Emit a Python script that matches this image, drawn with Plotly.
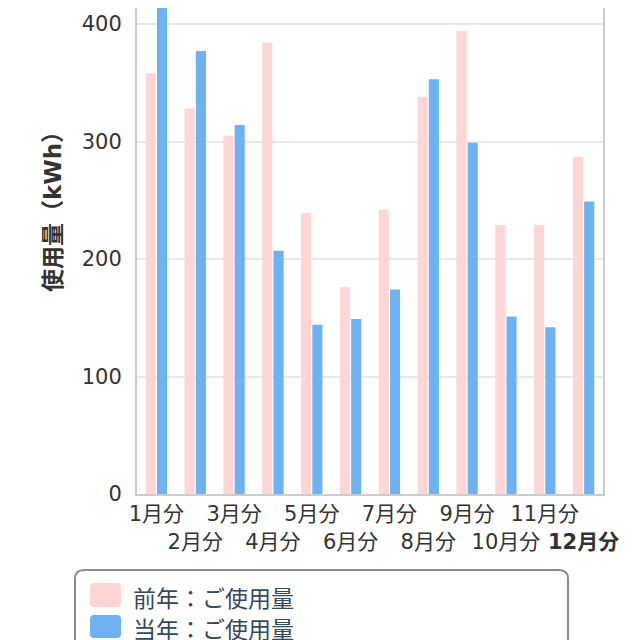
import plotly.graph_objects as go

# monthly usage, kWh
months = ["1月分", "2月分", "3月分", "4月分", "5月分", "6月分",
          "7月分", "8月分", "9月分", "10月分", "11月分", "12月分"]
prev_year = [358, 328, 305, 384, 239, 176, 242, 338, 394, 229, 229, 287]
this_year = [416, 377, 314, 207, 144, 149, 174, 353, 299, 151, 142, 249]
series_names = ["前年：ご使用量", "当年：ご使用量"]
colors = ["#ffd6d3", "#6db3f2"]

FONT = "DejaVu Sans, Noto Sans CJK JP, sans-serif"
CJK = "Noto Sans CJK JP"
OFF = 8                      # default body margin of the html page
W, H = 640 - OFF, 640 - OFF
L, R, T, B = 129, 37, 0, 146
PW, PH = W - L - R, H - T - B
Y_TOP = (494 - OFF) / 1.175  # value at the top edge of the plot area


def px(x, y):
    '''pixel position on the page -> paper coords'''
    return (x - OFF - L) / PW, (T + PH - (y - OFF)) / PH


def rounded_rect(x0, y0, x1, y1, r):
    '''rounded rectangle path, given in page pixels'''
    ax, ay = px(x0, y0)
    bx, by = px(x1, y1)
    rx, ry = r / PW, r / PH
    return (f"M {ax+rx},{ay} L {bx-rx},{ay} Q {bx},{ay} {bx},{ay-ry} "
            f"L {bx},{by+ry} Q {bx},{by} {bx-rx},{by} L {ax+rx},{by} "
            f"Q {ax},{by} {ax},{by+ry} L {ax},{ay-ry} Q {ax},{ay} {ax+rx},{ay} Z")


# odd months on the first row, even months on the second
ticktext = []
for i, m in enumerate(months):
    label = m if i % 2 == 0 else "<br>" + m
    if i == len(months) - 1:
        label = "<br><b>" + m + "</b>"
    ticktext.append(label)

fig = go.Figure()
for name, vals, col in zip(series_names, [prev_year, this_year], colors):
    fig.add_trace(go.Bar(x=months, y=vals, name=name, marker_color=col,
                         marker_line_width=0))

fig.update_layout(
    width=W, height=H,
    margin=dict(l=L, r=R, t=T, b=B, pad=0, autoexpand=False),
    paper_bgcolor="white", plot_bgcolor="white",
    barmode="group", bargap=0.42, bargroupgap=0.1,
    showlegend=False,
    font=dict(family=FONT, size=21, color="#333333"),
)
fig.update_xaxes(
    tickvals=months, ticktext=ticktext, tickangle=0, automargin=False,
    showline=True, linecolor="#cccccc", linewidth=2,
    showgrid=False, ticks="",
    tickfont=dict(size=21, color="#333333"),
)
fig.update_yaxes(
    range=[0, Y_TOP], dtick=100, automargin=False,
    showline=True, linecolor="#cccccc", linewidth=2, mirror=True,
    gridcolor="#e8e8e8", gridwidth=1.5, zeroline=False,
    ticks="", ticklabelstandoff=9,
    tickfont=dict(size=21, color="#333333"),
)

# y axis title
tx, ty = px(51, 206)
paren = lambda s: f"<span style=\"font-family:'{CJK}'\">{s}</span>"
fig.add_annotation(x=tx, y=ty, xref="paper", yref="paper", showarrow=False,
                   xanchor="center", yanchor="middle",
                   text="<b>" + paren("使用量（") + "kWh" + paren("）") + "</b>",
                   textangle=-90,
                   font=dict(family=FONT, size=23, color="#333333"))

# legend box with rounded corners
fig.add_shape(type="path", xref="paper", yref="paper",
              path=rounded_rect(75, 570, 568, 700, 9),
              line=dict(color="#8a8a8a", width=2), fillcolor="white")
swatches = [(583, 607, 597), (615, 638, 628)]
for (s0, s1, ymid), name, col in zip(swatches, series_names, colors):
    fig.add_shape(type="path", xref="paper", yref="paper",
                  path=rounded_rect(90, s0, 121, s1, 4),
                  line=dict(width=0), fillcolor=col)
    ax, ay = px(131, ymid)
    fig.add_annotation(x=ax, y=ay, xref="paper", yref="paper",
                       xanchor="left", yanchor="middle", showarrow=False,
                       text=name, font=dict(family=CJK, size=23, color="#34495e"))

fig.write_html("out.html")
